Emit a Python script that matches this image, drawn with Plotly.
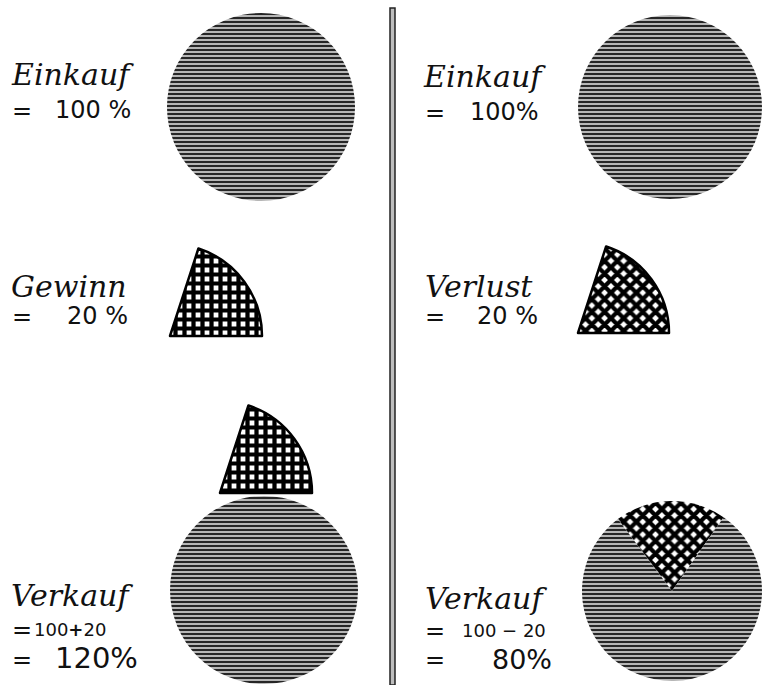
import plotly.graph_objects as go

# ---- data ----
einkauf = 100
gewinn = 20
verlust = 20
verkauf_gewinn = einkauf + gewinn      # 120
verkauf_verlust = einkauf - verlust    # 80
labels_left = ["Einkauf", "Gewinn", "Verkauf"]
labels_right = ["Einkauf", "Verlust", "Verkauf"]

W, H = 763, 685

def dom(cx, cy, r):
    x0 = max(0, (cx - r) / W); x1 = min(1, (cx + r) / W)
    y0 = max(0, 1 - (cy + r) / H); y1 = min(1, 1 - (cy - r) / H)
    return dict(x=[x0, x1], y=[y0, y1])

LINES = dict(fgcolor="#262626", bgcolor="#c6c6c6", size=4, solidity=0.55)
GRID = dict(fg="#000000", bg="#ffffff", size=9, solidity=0.72)
CLEAR = "rgba(0,0,0,0)"

fig = go.Figure()

def full_circle(cx, cy, r, name):
    fig.add_trace(go.Pie(
        values=[einkauf], labels=[name], sort=False, textinfo="none", hoverinfo="skip",
        domain=dom(cx, cy, r),
        marker=dict(colors=[LINES["bgcolor"]], line=dict(width=0),
                    pattern=dict(shape="-", fgcolor=LINES["fgcolor"], bgcolor=LINES["bgcolor"],
                                 size=LINES["size"], solidity=LINES["solidity"])),
    ))

def wedge(cx, cy, r, value, shape, name):
    fig.add_trace(go.Pie(
        values=[value, einkauf - value], labels=[name, "rest"], sort=False,
        direction="clockwise", rotation=18, textinfo="none", hoverinfo="skip",
        domain=dom(cx, cy, r),
        marker=dict(colors=[GRID["bg"], CLEAR],
                    line=dict(width=[2.5, 0], color=["#000000", CLEAR]),
                    pattern=dict(shape=[shape, ""], fgcolor=[GRID["fg"], CLEAR],
                                 bgcolor=[GRID["bg"], CLEAR], size=GRID["size"],
                                 solidity=GRID["solidity"])),
    ))

# left column
full_circle(261, 107, 94, labels_left[0])
wedge(170, 336, 92, gewinn, "+", labels_left[1])
full_circle(264, 590, 94, labels_left[2])
wedge(220, 493, 92, gewinn, "+", labels_left[1])

# right column
full_circle(670, 107, 92, labels_right[0])
wedge(578, 333, 91, verlust, "x", labels_right[1])
fig.add_trace(go.Pie(
    values=[verlust, verkauf_verlust], labels=[labels_right[1], labels_right[2]], sort=False,
    direction="clockwise", rotation=-37, textinfo="none", hoverinfo="skip",
    domain=dom(672, 591, 90),
    marker=dict(colors=[GRID["bg"], LINES["bgcolor"]], line=dict(width=0),
                pattern=dict(shape=["x", "-"], fgcolor=[GRID["fg"], LINES["fgcolor"]],
                             bgcolor=[GRID["bg"], LINES["bgcolor"]],
                             size=[GRID["size"], LINES["size"]],
                             solidity=[GRID["solidity"], LINES["solidity"]])),
))

# ---- text ----
SCRIPT = dict(family="DejaVu Serif", size=30, color="#111111", style="italic")
NUM = dict(family="DejaVu Sans", color="#111111")

ann = []
def txt(x, y, s, font):
    ann.append(dict(x=x / W, y=1 - y / H, xref="paper", yref="paper", text=s,
                    showarrow=False, xanchor="left", yanchor="middle", font=font))

def eq(x, y):
    txt(x, y, "=", dict(NUM, size=24))

# left
txt(9, 74, labels_left[0], SCRIPT)
eq(10, 111); txt(53, 110, f"{einkauf} %", dict(NUM, size=24))
txt(9, 286, labels_left[1], SCRIPT)
eq(10, 317); txt(65, 316, f"{gewinn} %", dict(NUM, size=24))
txt(9, 595, labels_left[2], SCRIPT)
eq(10, 630); txt(32, 629, f"{einkauf}<b>+</b>{gewinn}", dict(NUM, size=18))
eq(10, 660); txt(53, 658, f"{verkauf_gewinn}%", dict(NUM, size=29))

# right
txt(421, 77, labels_right[0], SCRIPT)
eq(423, 113); txt(468, 112, f"{einkauf}%", dict(NUM, size=24))
txt(423, 286, labels_right[1], SCRIPT)
eq(423, 317); txt(475, 316, f"{verlust} %", dict(NUM, size=24))
txt(423, 598, labels_right[2], SCRIPT)
eq(423, 631); txt(460, 630, f"{einkauf} \u2212 {verlust}", dict(NUM, size=18))
eq(423, 660); txt(490, 659, f"{verkauf_verlust}%", dict(NUM, size=27))

# divider (double line)
shapes = [dict(type="rect", xref="paper", yref="paper",
               x0=390 / W, x1=395 / W, y0=0, y1=1 - 8 / H,
               line=dict(color="#222222", width=1.5), fillcolor="#bdbdbd")]

fig.update_layout(width=W, height=H, margin=dict(l=0, r=0, t=0, b=0),
                  paper_bgcolor="white", plot_bgcolor="white", showlegend=False,
                  annotations=ann, shapes=shapes)

fig.write_html("out.html", config={"displayModeBar": False},
               post_script="document.body.style.margin='0';document.body.style.overflow='hidden';")
